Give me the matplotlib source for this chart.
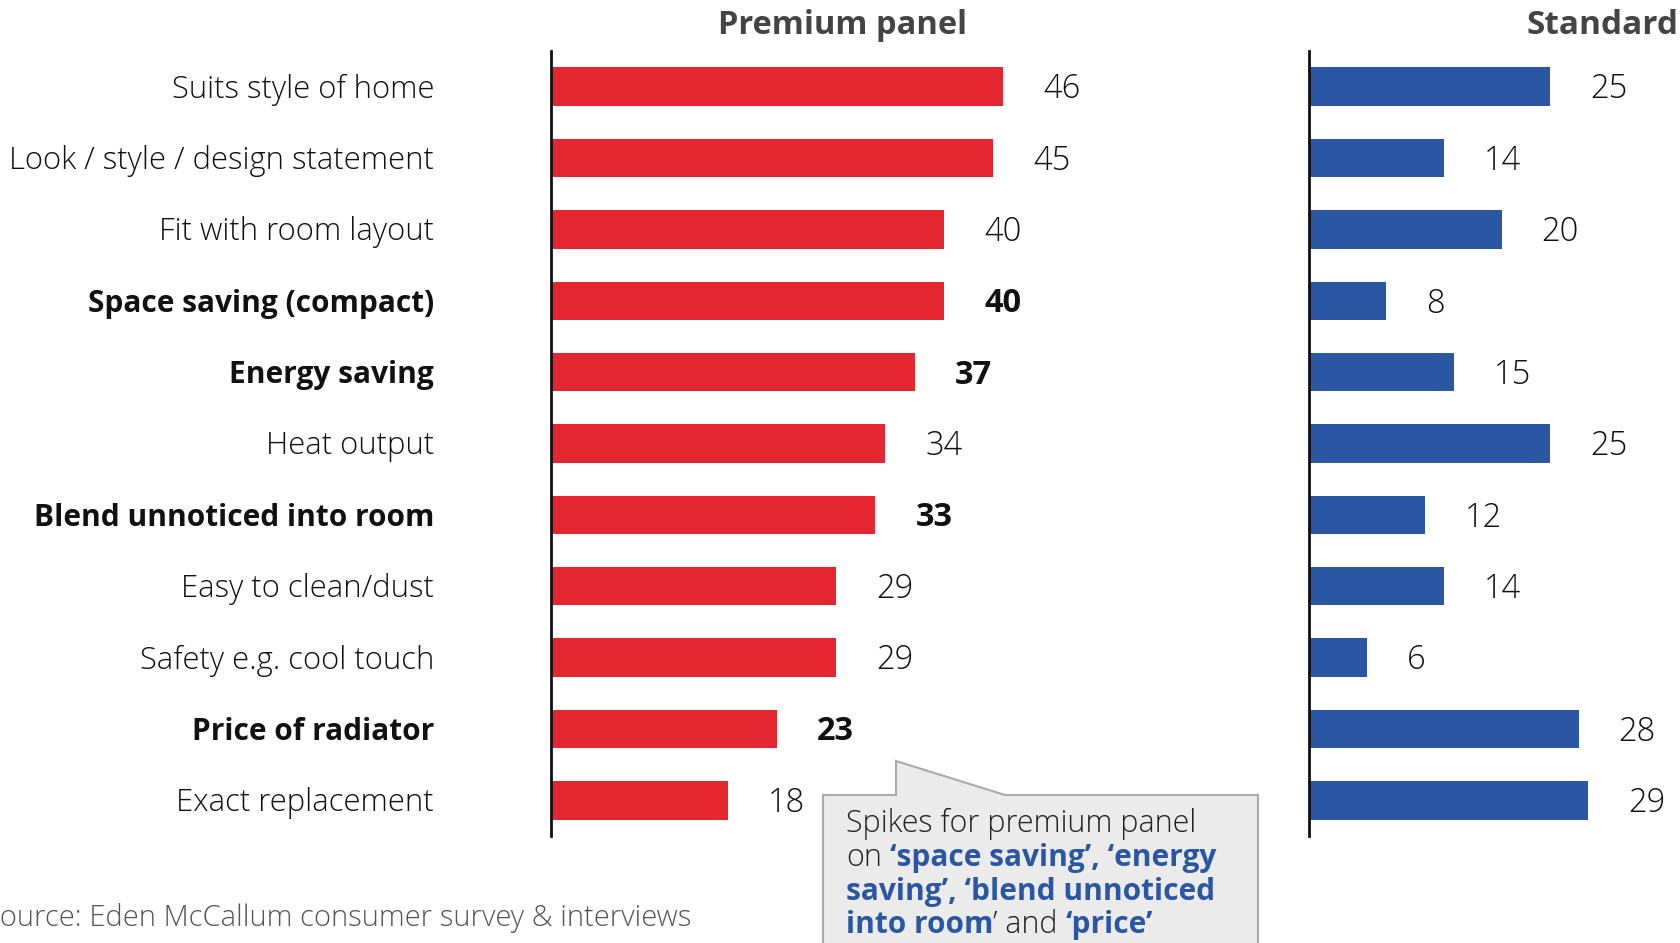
import matplotlib.pyplot as plt
from matplotlib.patches import Polygon

plt.rcParams['font.family'] = ['Open Sans', 'DejaVu Sans']

factors = ["Suits style of home", "Look / style / design statement", "Fit with room layout",
           "Space saving (compact)", "Energy saving", "Heat output", "Blend unnoticed into room",
           "Easy to clean/dust", "Safety e.g. cool touch", "Price of radiator", "Exact replacement"]
premium = [46, 45, 40, 40, 37, 34, 33, 29, 29, 23, 18]
standard = [25, 14, 20, 8, 15, 25, 12, 14, 6, 28, 29]
highlight = [False, False, False, True, True, False, True, False, False, True, False]

RED = '#E3262F'
BLUE = '#2A56A3'
W, H = 1680, 943

def fx(px):
    return px / W

def fy(py):
    return 1 - py / H

fig = plt.figure(figsize=(16.8, 9.43), dpi=100)

# axes placed in pixel terms (top-left origin)
ax_p = fig.add_axes([fx(551), fy(836), fx(491.5), (836 - 51) / H])
ax_s = fig.add_axes([fx(1309), fy(836), fx(289), (836 - 51) / H])

y = list(range(len(factors)))

ax_p.barh(y, premium, height=0.54, color=RED)
ax_s.barh(y, standard, height=0.54, color=BLUE)
ax_p.set_xlim(0, 50)
ax_s.set_xlim(0, 30)

for ax in (ax_p, ax_s):
    ax.set_ylim(len(factors) - 0.5, -0.5)
    for s in ('top', 'right', 'bottom'):
        ax.spines[s].set_visible(False)
    ax.spines['left'].set_linewidth(2)
    ax.spines['left'].set_color('#111111')
    ax.set_xticks([])
    ax.set_yticks([])
    ax.patch.set_alpha(0)

# category labels
for i, name in enumerate(factors):
    ax_p.annotate(name, xy=(0, i), xytext=(-117, -3), textcoords='offset pixels',
                  ha='right', va='center', color='#111111',
                  fontsize=21.5 if highlight[i] else 22.3,
                  fontweight='bold' if highlight[i] else 'light')

# value labels
for i, v in enumerate(premium):
    ax_p.annotate(str(v), xy=(v, i), xytext=(40, -3), textcoords='offset pixels',
                  ha='left', va='center', fontsize=23.5, color='#111111',
                  fontweight='bold' if highlight[i] else 'light')
for i, v in enumerate(standard):
    ax_s.annotate(str(v), xy=(v, i), xytext=(40, -3), textcoords='offset pixels',
                  ha='left', va='center', fontsize=23.5, color='#111111', fontweight='light')

fig.text(fx(843), fy(25), "Premium panel", ha='center', va='center',
         fontsize=23.5, fontweight='bold', color='#444444')
fig.text(fx(1527), fy(25), "Standard", ha='left', va='center',
         fontsize=24, fontweight='bold', color='#444444')

fig.text(fx(691), fy(918), "Source: Eden McCallum consumer survey & interviews",
         ha='right', va='center', fontsize=21, fontweight='light', color='#555555')

# callout box with pointer
pts = [(823, 795), (896, 795), (896, 761), (1005, 795), (1258, 795), (1258, 990), (823, 990)]
box = Polygon([(fx(a), fy(b)) for a, b in pts], closed=True, transform=fig.transFigure,
              facecolor='#ECEBEB', edgecolor='#AAAAAA', linewidth=1.5, clip_on=False)
fig.add_artist(box)

# callout text: runs of plain / highlighted text, laid end to end
lines = [
    [("Spikes for premium panel", False)],
    [("on", False), (" ", False), ("‘space saving’, ‘energy", True)],
    [("saving’, ‘blend unnoticed", True)],
    [("into room", True), ("’ and", False), (" ", False), ("‘price’", True)],
]
line_y = [821, 855, 889, 922]

renderer = fig.canvas.get_renderer()

def run_width(txt, kw):
    if txt == " ":
        a = fig.text(0, 0, "x x", **kw)
        b = fig.text(0, 0, "xx", **kw)
        w = a.get_window_extent(renderer).width - b.get_window_extent(renderer).width
        a.remove()
        b.remove()
        return w, None
    t = fig.text(0, 0, txt, **kw)
    return t.get_window_extent(renderer).width, t

for ly, parts in zip(line_y, lines):
    x = 846
    for txt, bold in parts:
        kw = dict(fontsize=22 if not bold else 21.5, color=BLUE if bold else '#222222',
                  fontweight='bold' if bold else 'light', ha='left', va='baseline')
        w, t = run_width(txt, kw)
        if t is not None:
            t.set_position((fx(x), fy(ly + 11)))
        x += w

fig.savefig('out.png', dpi=100)
